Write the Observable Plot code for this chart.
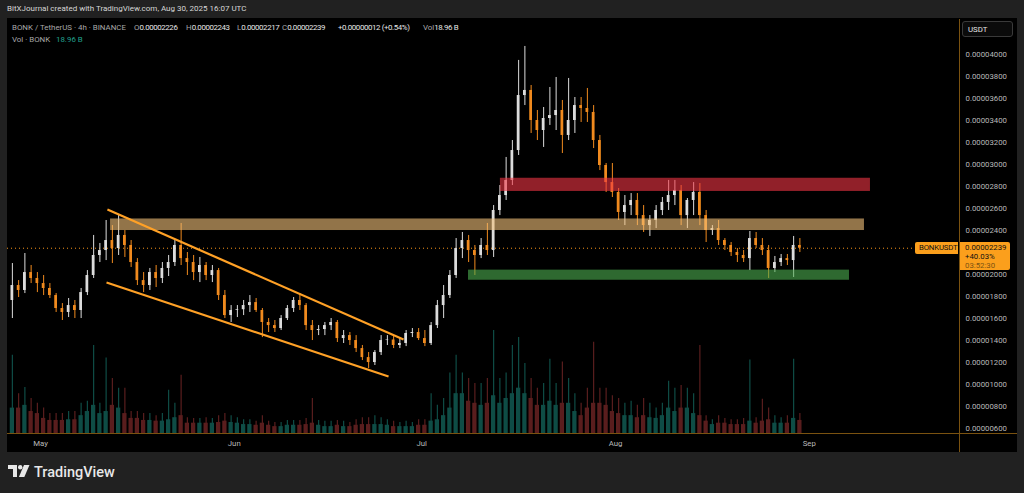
<!DOCTYPE html>
<html><head><meta charset="utf-8">
<script src="https://cdn.jsdelivr.net/npm/d3@7"></script>
<script src="https://cdn.jsdelivr.net/npm/@observablehq/plot@0.6"></script>
<style>
html,body{margin:0;padding:0;background:#212121;width:1024px;height:493px;overflow:hidden;font-family:Roboto,"Liberation Sans",sans-serif;}
.abs{position:absolute;white-space:nowrap;}
#hdr{left:7px;top:4px;font-size:8px;color:#d6d6d6;}
#panel{left:7px;top:18px;width:1010px;height:434px;background:#000;}
#volwrap,#mainwrap{position:absolute;left:7px;top:19px;}
.lg{font-size:7.9px;line-height:10px;}
.g{color:#a8a8a8}.w{color:#e6e6e6;letter-spacing:-0.4px}
#usdt{left:962px;top:21px;width:51px;height:16px;border:1px solid #3a3a3a;border-radius:3px;background:#0b0b0b;color:#e6e6e6;font-size:7.8px;line-height:16px;padding-left:5px;box-sizing:border-box;}
.tag{background:#fb9f1c;color:#111;font-size:7.8px;}
#vline{left:959px;top:19px;width:1px;height:433px;background:#7a5210;}
#hline{left:7px;top:433px;width:1010px;height:1px;background:#7a5210;}
#logo{left:8px;top:464px;color:#e8e8e8;font-size:14.5px;font-weight:500;}
</style></head><body>
<div id="hdr" class="abs">BitXJournal created with TradingView.com, Aug 30, 2025 16:07 UTC</div>
<div id="panel" class="abs"></div>
<div id="volwrap"></div>
<div id="mainwrap"></div>
<div id="vline" class="abs"></div>
<div id="hline" class="abs"></div>
<div id="usdt" class="abs">USDT</div>
<div class="abs lg g" style="left:12px;top:23px">BONK / TetherUS · 4h · BINANCE</div>
<div class="abs lg" style="left:134px;top:23px"><span class="g">O</span><span class="w">0.00002226</span></div>
<div class="abs lg" style="left:186px;top:23px"><span class="g">H</span><span class="w">0.00002243</span></div>
<div class="abs lg" style="left:237px;top:23px"><span class="g">L</span><span class="w">0.00002217</span></div>
<div class="abs lg" style="left:282px;top:23px"><span class="g">C</span><span class="w">0.00002239</span></div>
<div class="abs lg w" style="left:338px;top:23px">+0.00000012 (+0.54%)</div>
<div class="abs lg" style="left:423px;top:23px"><span class="g">Vol</span><span class="w">18.96 B</span></div>
<div class="abs lg g" style="left:12px;top:35px">Vol · BONK</div>
<div class="abs lg" style="left:56px;top:35px;color:#22a08f">18.96 B</div>
<div id="logo" class="abs"><svg width="22" height="13" viewBox="0 0 22 13" style="vertical-align:-1px;margin-right:4px"><path d="M0 0h9v12H5V4H0z" fill="#e8e8e8"/><circle cx="12.2" cy="2.2" r="2.2" fill="#e8e8e8"/><path d="M16 0h5.5l-5.2 12h-5.4z" fill="#e8e8e8"/></svg>TradingView</div>
<script>
// ---- data (prices in units of 1e-8 USDT) ----
const firstDay = "2025-04-26";
const firstOpen = 1764;
const closes = [1900,1855,2018,1964,1918,
1873,1809,1691,1655,1718,1673,1836,1991,2173,2218,2309,2236,2355,2264,2109,1945,1900,2018,1964,2055,2109,2264,2145,2109,2018,2082,1991,2036,1809,1627,1673,
1680,1718,1745,1673,1564,1536,1509,1600,1691,1764,1718,1536,1491,1500,1536,1564,1418,1445,1400,1327,1245,1200,1291,1400,1405,1355,1373,1464,1473,1418,
1373,1536,1718,1809,1991,2236,2309,2218,2173,2264,2218,2582,2718,2855,3127,3627,3673,3400,3309,3418,3445,3491,3264,3400,3536,3509,3473,3218,2991,2836,2746,
2564,2627,2673,2536,2445,2491,2582,2655,2718,2764,2536,2673,2746,2536,2400,2418,2309,2264,2200,2173,2145,2327,2264,2218,2055,2109,2145,2127,2264,2239];
const highs = [2100,1945,2191,2082,2018,
1991,1918,1827,1736,1782,1764,1873,2036,2355,2282,2491,2445,2536,2400,2309,2145,2018,2055,2082,2109,2173,2309,2464,2200,2173,2155,2109,2082,2055,1855,1718,
1718,1764,1809,1782,1691,1600,1582,1627,1718,1791,1827,1736,1582,1536,1564,1600,1582,1491,1473,1445,1355,1291,1309,1445,1445,1445,1418,1491,1509,1509,
1491,1564,1764,1900,2036,2327,2382,2355,2264,2327,2464,2627,2809,3064,3218,3946,4073,3718,3491,3518,3700,3791,3582,3782,3609,3609,3691,3536,3264,3009,3009,
2782,2718,2736,2736,2627,2536,2627,2700,2855,2855,2809,2691,2836,2827,2582,2445,2491,2327,2291,2236,2218,2391,2382,2327,2264,2164,2182,2182,2346,2327];
const lows = [1600,1791,1827,1918,1836,
1809,1782,1655,1582,1609,1600,1600,1809,1964,2109,2127,2100,2173,2155,2064,1900,1836,1855,1882,1918,1982,2073,2082,1991,1945,1927,1945,1927,1764,1600,1564,
1609,1627,1655,1655,1427,1473,1473,1491,1582,1655,1673,1491,1400,1445,1445,1491,1382,1373,1355,1291,1218,1145,1173,1264,1355,1327,1327,1345,1427,1400,
1345,1355,1509,1600,1782,1964,2145,2109,1991,2145,2173,2155,2536,2673,2809,3082,3536,3282,3218,3155,3355,3309,3100,3218,3282,3382,3382,3145,2945,2746,2700,
2491,2445,2536,2445,2382,2346,2418,2536,2582,2627,2445,2418,2536,2445,2291,2355,2264,2218,2164,2109,2109,2036,2236,2173,1964,2018,2073,2082,1973,2200];
// volume, billions BONK (typical and peak 4h bar of each day)
const volAvg = [37,37,41,32,29,
22,19,19,19,20,20,26,32,41,29,32,41,37,29,22,22,19,19,18,18,20,23,26,15,15,15,15,15,16,18,16,
15,13,13,12,15,12,10,10,12,12,12,13,15,12,10,10,12,10,10,12,13,13,13,13,12,10,10,10,10,12,
12,18,20,26,37,58,58,47,44,41,44,55,44,51,58,66,58,51,41,41,47,41,44,44,32,26,37,44,44,41,32,
29,26,26,23,26,23,22,26,37,32,37,37,29,26,18,13,15,15,13,13,13,18,15,18,20,15,15,15,22,19];
const volMax = [114,58,67,51,44,
37,29,29,29,32,32,44,47,128,44,110,80,66,66,32,32,29,29,26,29,63,44,85,23,22,22,23,22,26,29,26,
23,20,20,18,26,18,16,16,19,19,19,22,51,19,18,18,19,18,16,20,23,23,26,23,20,18,16,18,16,20,
20,58,41,51,88,114,88,80,73,73,80,150,80,88,128,140,102,80,66,73,108,73,104,80,58,44,66,133,66,66,55,
51,44,47,41,51,44,37,44,76,66,70,66,58,128,26,20,26,22,20,20,22,107,23,50,37,26,23,26,108,29];
const lastPrice = 2239;
const lastChange = "+40.03%";
const countdown = "03:52:30";
const symbol = "BONKUSDT";
// 0.00002200 is hidden behind the price tag in the reference
const priceTicks = [600,800,1000,1200,1400,1600,1800,2000,2400,2600,2800,3000,3200,3400,3600,3800,4000];
const monthTicks = ["2025-05-01","2025-06-01","2025-07-01","2025-08-01","2025-09-01"];
// zones
const zoneStart = ["2025-05-12T05:00Z","2025-07-13T14:00Z","2025-07-08T11:30Z"];
const zoneEnd   = ["2025-09-09T20:00Z","2025-09-10T19:00Z","2025-09-07T10:30Z"];
const zoneLow   = [2400,2755,1948];
const zoneHigh  = [2505,2875,2040];
const zoneColor = ["rgb(243,193,122)","rgb(242,54,69)","rgb(76,175,80)"];
// channel lines
const lineStart = ["2025-05-11T17:00Z","2025-05-11T13:30Z"];
const lineEnd   = ["2025-06-28T02:00Z","2025-06-25T16:30Z"];
const lineP1    = [2591,1927];
const lineP2    = [1409,1073];

// ---- build tables ----
const DAY = 864e5;
const t0 = new Date(firstDay + "T00:00Z").getTime();
const candles = closes.map((c, i) => {
  const s = t0 + i * DAY;
  const open = i === 0 ? firstOpen : closes[i - 1];
  return {
    start: new Date(s), mid: new Date(s + DAY / 2),
    b1: new Date(s + 0.28 * DAY), b2: new Date(s + 0.72 * DAY),
    v1: new Date(s + 0.16 * DAY), v2: new Date(s + 0.84 * DAY),
    open, close: c, high: highs[i], low: lows[i],
    vol: volAvg[i], volMax: volMax[i], up: c >= open
  };
});
const zones = zoneStart.map((s, i) => ({x1: new Date(s), x2: new Date(zoneEnd[i]), y1: zoneLow[i], y2: zoneHigh[i], c: zoneColor[i]}));
const lines = lineStart.map((s, i) => ({x1: new Date(s), x2: new Date(lineEnd[i]), y1: lineP1[i], y2: lineP2[i]}));

const MAY1 = Date.UTC(2025, 4, 1);
const xDomain = [new Date(MAY1 - 5.28 * DAY), new Date(MAY1 + 147.04 * DAY)];
const UP = "#dcdcdc", DOWN = "#f08a1e";
const VUP = "#0f4d46", VDOWN = "#5a1e1e";
const common = {width: 1010, height: 433, marginLeft: 0, marginRight: 58, marginTop: 0, marginBottom: 19};

const vol = Plot.plot({
  ...common,
  style: {background: "transparent"},
  x: {type: "utc", domain: xDomain, axis: null},
  y: {domain: [0, 603], axis: null},
  color: {type: "identity"},
  marks: [
    Plot.rect(candles, {x1: "v1", x2: "v2", y1: 0, y2: "vol", fill: d => d.up ? VUP : VDOWN}),
    Plot.ruleX(candles, {x: "mid", y1: 0, y2: "volMax", stroke: d => d.up ? VUP : VDOWN, strokeWidth: 1.2})
  ]
});
document.getElementById("volwrap").appendChild(vol);

const main = Plot.plot({
  ...common,
  style: {background: "transparent", color: "#b9b9b9", fontFamily: "Roboto, sans-serif", fontSize: "7.8px", overflow: "visible"},
  x: {type: "utc", domain: xDomain},
  y: {domain: [555, 4318]},
  color: {type: "identity"},
  marks: [
    Plot.ruleY([lastPrice], {stroke: "#f7931a", strokeDasharray: "1,3", strokeWidth: 1}),
    Plot.ruleX(candles, {x: "mid", y1: "low", y2: "high", stroke: d => d.up ? UP : DOWN, strokeWidth: 1}),
    Plot.rect(candles, {x1: "b1", x2: "b2", y1: "open", y2: "close", fill: d => d.up ? UP : DOWN}),
    Plot.rect(zones, {x1: "x1", x2: "x2", y1: "y1", y2: "y2", fill: "c", fillOpacity: 0.6}),
    Plot.link(lines, {x1: "x1", x2: "x2", y1: "y1", y2: "y2", stroke: "#ffa126", strokeWidth: 2.2}),
    Plot.axisY({anchor: "right", ticks: priceTicks, tickSize: 0, tickPadding: 6, tickFormat: v => (v * 1e-8).toFixed(8), label: null}),
    Plot.axisX({ticks: monthTicks.map(d => new Date(d + "T00:00Z")), tickSize: 0, tickPadding: 7, tickFormat: d3.utcFormat("%b"), label: null})
  ]
});
document.getElementById("mainwrap").appendChild(main);

// price tags positioned from the y scale
const yp = main.scale("y").apply(lastPrice) + 19;
const tag1 = document.createElement("div");
tag1.className = "abs tag";
tag1.style.cssText = `left:915px;top:${yp - 6}px;width:43px;height:12px;line-height:12px;padding-left:4px;box-sizing:border-box;border-radius:2px 0 0 2px;letter-spacing:-0.2px;`;
tag1.textContent = symbol;
document.body.appendChild(tag1);
const tag2 = document.createElement("div");
tag2.className = "abs tag";
tag2.style.cssText = `left:960px;top:${yp - 6}px;width:50px;height:28px;padding-left:5px;box-sizing:border-box;line-height:9px;padding-top:1px;border-radius:0 2px 2px 0;`;
tag2.innerHTML = `${(lastPrice * 1e-8).toFixed(8)}<br>${lastChange}<br><span style="color:#7c5312">${countdown}</span>`;
document.body.appendChild(tag2);
</script>
</body></html>
